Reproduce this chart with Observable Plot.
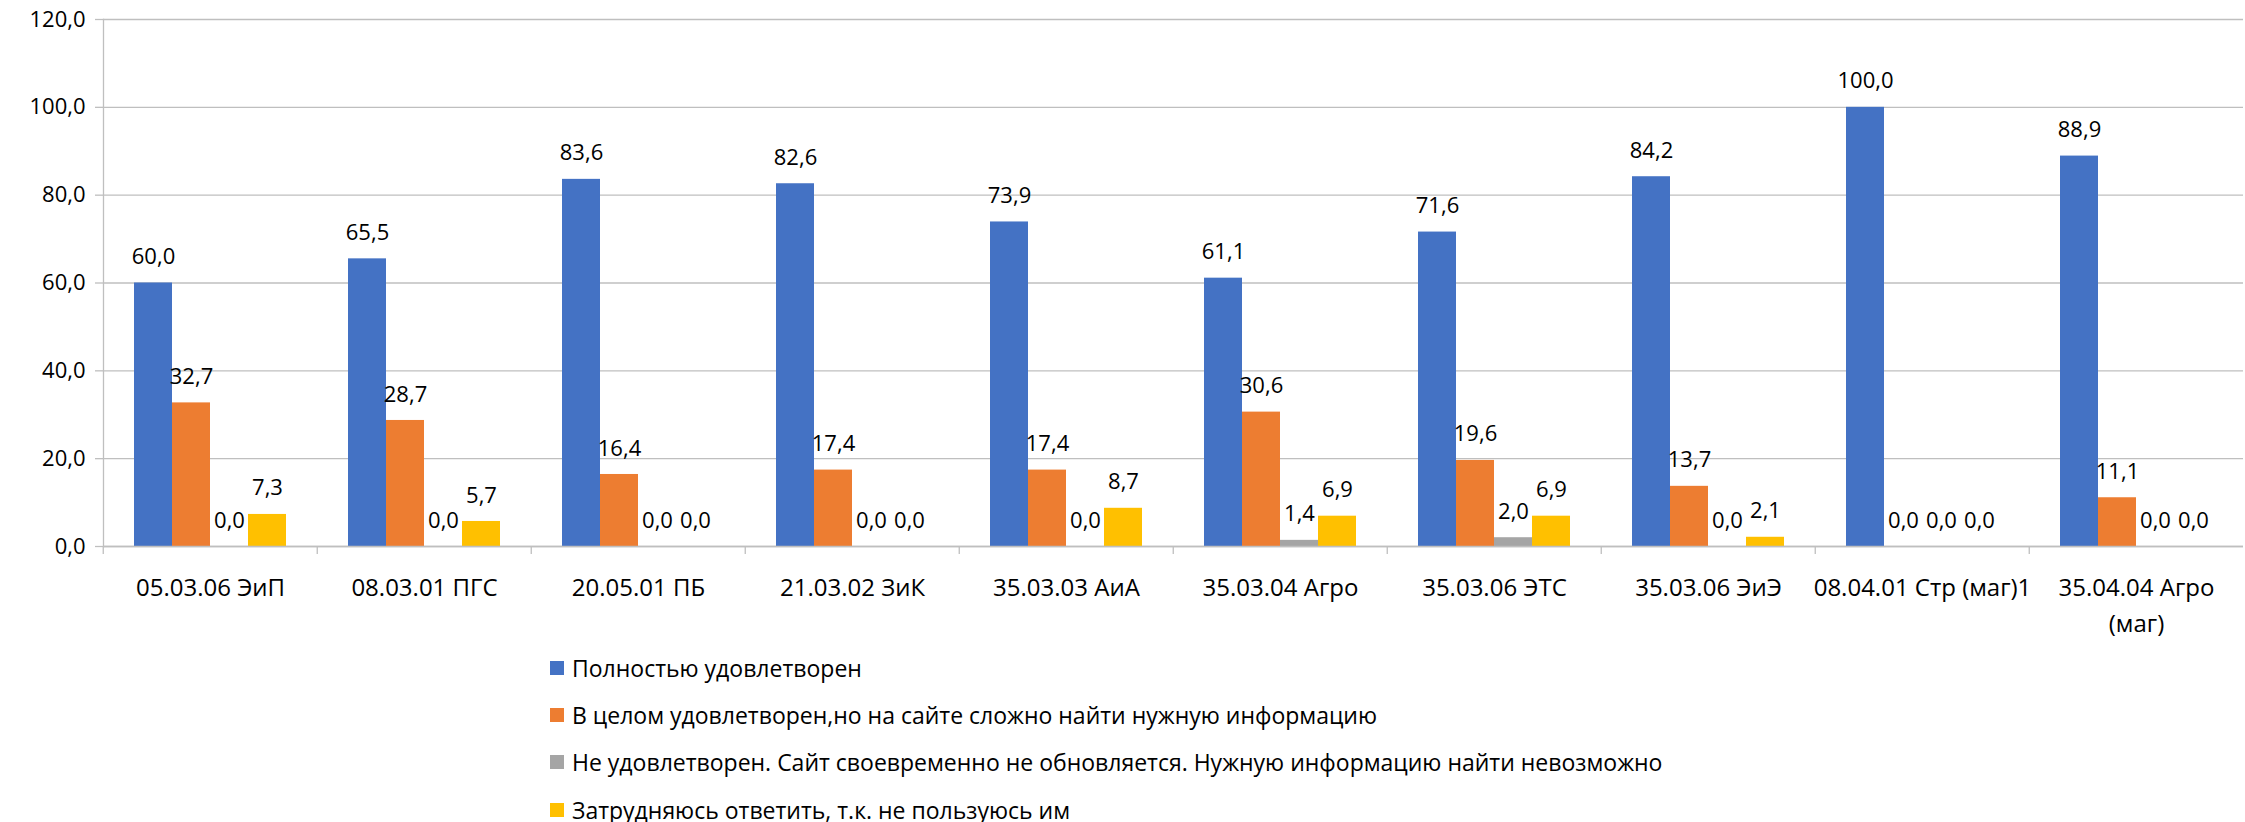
<!DOCTYPE html>
<html>
<head>
<meta charset="utf-8">
<script src="https://cdn.jsdelivr.net/npm/d3@7"></script>
<script src="https://cdn.jsdelivr.net/npm/@observablehq/plot@0.6"></script>
<style>
  html, body { margin: 0; padding: 0; background: #fff; overflow: hidden; }
  #chart svg { display: block; }
  #legend { font-family: "Open Sans", sans-serif; font-size: 23px; color: #000; padding-top: 4px; margin-left: 550px; }
  .row { display: flex; align-items: center; height: 47.3px; white-space: nowrap; }
  .sw { width: 14px; height: 14px; margin-right: 8px; flex: none; }
</style>
</head>
<body>
<div id="chart"></div>
<div id="legend"></div>
<script>
const categories = ["05.03.06 ЭиП", "08.03.01 ПГС", "20.05.01 ПБ", "21.03.02 ЗиК", "35.03.03 АиА", "35.03.04 Агро", "35.03.06 ЭТС", "35.03.06 ЭиЭ", "08.04.01 Стр (маг)1", "35.04.04 Агро (маг)"];
const seriesNames = [
  "Полностью удовлетворен",
  "В целом удовлетворен,но на сайте сложно найти нужную информацию",
  "Не удовлетворен. Сайт своевременно не обновляется. Нужную информацию найти невозможно",
  "Затрудняюсь ответить, т.к. не пользуюсь им"
];
const fully   = [60.0, 65.5, 83.6, 82.6, 73.9, 61.1, 71.6, 84.2, 100.0, 88.9];
const partly  = [32.7, 28.7, 16.4, 17.4, 17.4, 30.6, 19.6, 13.7, 0.0, 11.1];
const notSat  = [0.0, 0.0, 0.0, 0.0, 0.0, 1.4, 2.0, 0.0, 0.0, 0.0];
const unsure  = [7.3, 5.7, 0.0, 0.0, 8.7, 6.9, 6.9, 2.1, 0.0, 0.0];
const yTicks  = [0, 20, 40, 60, 80, 100, 120];
const colors  = ["#4472C4", "#ED7D31", "#A5A5A5", "#FFC000"];

const seriesValues = [fully, partly, notSat, unsure];
const data = categories.flatMap((c, i) => seriesValues.map((arr, j) => ({cat: c, series: seriesNames[j], value: arr[i]})));

const W = 2245, H = 640, mL = 100, mR = 0, mT = 19, mB = 94;
const band = (W - mL - mR) / categories.length;
const fmt = d => d.toFixed(1).replace(".", ",");
const wrap = d => d === "35.04.04 Агро (маг)" ? "35.04.04 Агро\n(маг)" : d;
const axisColor = "#bfbfbf";

const chart = Plot.plot({
  width: W, height: H,
  marginLeft: mL, marginRight: mR, marginTop: mT, marginBottom: mB,
  style: {fontFamily: "Open Sans, sans-serif", fontSize: "22px", color: "#000", background: "#fff"},
  fx: {domain: categories, padding: 0, label: null},
  x: {domain: seriesNames, paddingInner: 0, paddingOuter: 0.75, axis: null},
  y: {domain: [0, 120], label: null},
  color: {domain: seriesNames, range: colors},
  marks: [
    Plot.gridY(yTicks, {stroke: axisColor, strokeOpacity: 1, strokeWidth: 1.3}),
    Plot.axisY(yTicks, {tickFormat: fmt, tickSize: 8, tickPadding: 10, stroke: axisColor, strokeWidth: 1.3, fontSize: 22, label: null}),
    Plot.frame({anchor: "left", facetAnchor: "left", stroke: axisColor, strokeWidth: 1.3}),
    Plot.barY(data, {fx: "cat", x: "series", y: "value", fill: "series"}),
    Plot.ruleY([0], {stroke: axisColor, strokeWidth: 1.3}),
    Plot.text(data, {fx: "cat", x: "series", y: "value", text: d => fmt(d.value), dy: -26, fontSize: 22, fill: "#000"}),
    Plot.axisFx({anchor: "bottom", tickSize: 8, tickFormat: () => "", dx: -band / 2, stroke: axisColor, strokeWidth: 1.3, label: null}),
    Plot.axisFx({anchor: "bottom", tickSize: 0, tickPadding: 24, tickFormat: wrap, fontSize: 24, lineHeight: 1.5, label: null})
  ]
});
document.getElementById("chart").appendChild(chart);

const legend = document.getElementById("legend");
seriesNames.forEach((name, i) => {
  const row = document.createElement("div");
  row.className = "row";
  const sw = document.createElement("span");
  sw.className = "sw";
  sw.style.background = colors[i];
  const t = document.createElement("span");
  t.textContent = name;
  row.appendChild(sw);
  row.appendChild(t);
  legend.appendChild(row);
});
</script>
</body>
</html>
